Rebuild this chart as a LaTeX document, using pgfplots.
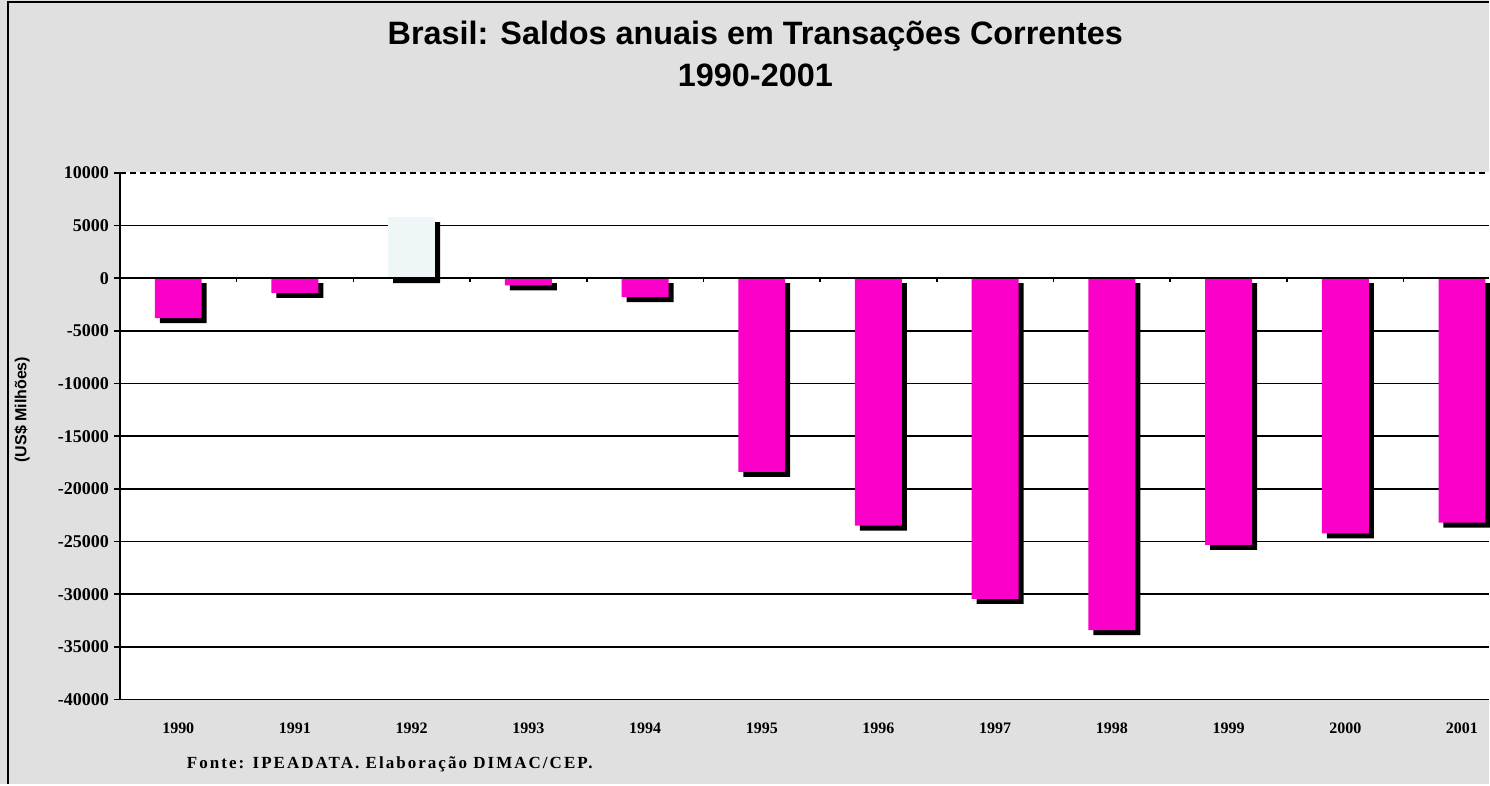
\documentclass[border=0pt]{standalone}
\usepackage{fontspec}
\setmainfont{Liberation Serif}
\newfontfamily\arialfont{Liberation Sans}
\usepackage{pgfplots}
\pgfplotsset{compat=1.18}
\definecolor{barpink}{RGB}{250,0,200}
\definecolor{bgspeck}{RGB}{224,224,224}
\definecolor{barlight}{RGB}{238,246,248}
\begin{document}
\begin{tikzpicture}
\fill[bgspeck] (-60pt,-42.5pt) rectangle (685pt,350pt);
\draw[black, line width=1.2pt] (-56pt,-42.5pt) -- (-56pt,349pt) -- (685pt,349pt);
\useasboundingbox (-60pt,-42.5pt) rectangle (685pt,350pt);
\begin{axis}[
  at={(0pt,0pt)}, anchor=south west,
  scale only axis, width=685pt, height=263.5pt,
  xmin=-0.5, xmax=11.23, ymin=-40000, ymax=10000,
  scaled y ticks=false,
  axis background/.style={fill=white},
  axis y line*=left, axis x line*=bottom,
  x axis line style={densely dashed, line width=0.8pt},
  y axis line style={line width=1pt},
  ytick={-40000,-35000,-30000,-25000,-20000,-15000,-10000,-5000,0,5000,10000},
  yticklabels={-40000,-35000,-30000,-25000,-20000,-15000,-10000,-5000,0,5000,10000},
  xtick={0,1,2,3,4,5,6,7,8,9,10,11},
  xticklabels={1990,1991,1992,1993,1994,1995,1996,1997,1998,1999,2000,2001},
  x tick style={draw=none},
  y tick style={black, line width=0.8pt},
  tick align=outside, major tick length=3pt,
  ymajorgrids, grid style={black, line width=0.9pt},
  yticklabel style={font=\bfseries\fontsize{9}{10}\selectfont, xshift=1pt},
  xticklabel style={font=\bfseries\fontsize{8}{9}\selectfont, yshift=-5pt},
  clip=false,
]
\addplot[ybar, bar shift=0pt, bar width=23.5pt, fill=black, draw=none, xshift=2.5pt, yshift=-2.5pt]
  coordinates {(0,-3784) (1,-1407) (2,5800) (3,-676) (4,-1811) (5,-18384) (6,-23502) (7,-30452) (8,-33416) (9,-25335) (10,-24225) (11,-23215)};
\addplot[ybar, bar shift=0pt, bar width=23.5pt, fill=barpink, draw=none]
  coordinates {(0,-3784) (1,-1407) (3,-676) (4,-1811) (5,-18384) (6,-23502) (7,-30452) (8,-33416) (9,-25335) (10,-24225) (11,-23215)};
\addplot[ybar, bar shift=0pt, bar width=23.5pt, fill=barlight, draw=none]
  coordinates {(2,5800)};
\draw[black, line width=0.9pt] (axis cs:-0.5,0) -- (axis cs:11.23,0);
\draw[black, line width=0.8pt] (axis cs:0.5,0) -- (axis cs:0.5,-400);
\draw[black, line width=0.8pt] (axis cs:1.5,0) -- (axis cs:1.5,-400);
\draw[black, line width=0.8pt] (axis cs:2.5,0) -- (axis cs:2.5,-400);
\draw[black, line width=0.8pt] (axis cs:3.5,0) -- (axis cs:3.5,-400);
\draw[black, line width=0.8pt] (axis cs:4.5,0) -- (axis cs:4.5,-400);
\draw[black, line width=0.8pt] (axis cs:5.5,0) -- (axis cs:5.5,-400);
\draw[black, line width=0.8pt] (axis cs:6.5,0) -- (axis cs:6.5,-400);
\draw[black, line width=0.8pt] (axis cs:7.5,0) -- (axis cs:7.5,-400);
\draw[black, line width=0.8pt] (axis cs:8.5,0) -- (axis cs:8.5,-400);
\draw[black, line width=0.8pt] (axis cs:9.5,0) -- (axis cs:9.5,-400);
\draw[black, line width=0.8pt] (axis cs:10.5,0) -- (axis cs:10.5,-400);
\draw[white, line width=1pt] (axis cs:-0.5,10000) -- (axis cs:11.23,10000);
\draw[black, densely dashed, line width=0.8pt] (axis cs:-0.5,10000) -- (axis cs:11.23,10000);
\end{axis}
\node[rotate=90, font=\arialfont\bfseries\fontsize{8}{9}\selectfont] at (-49pt,145pt) {(US\$ Milhões)};
\node[font=\arialfont\bfseries\fontsize{16.2}{19}\selectfont] at (318pt,332pt) {Brasil: Saldos anuais em Transações Correntes};
\node[font=\arialfont\bfseries\fontsize{16.2}{19}\selectfont] at (318pt,312.5pt) {1990-2001};
\node[anchor=west, font=\bfseries\fontsize{8.5}{10}\selectfont\addfontfeatures{LetterSpace=12}] at (30pt,-32.5pt) {Fonte: IPEADATA. Elaboração DIMAC/CEP.};
\end{tikzpicture}
\end{document}
